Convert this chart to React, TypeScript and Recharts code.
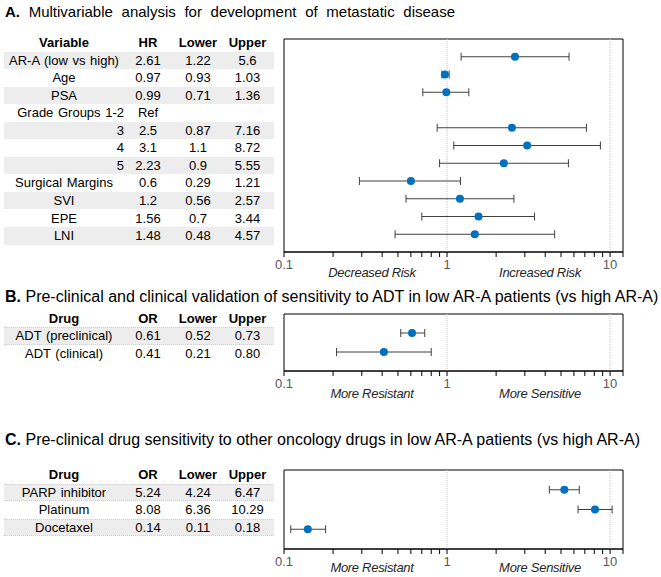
import React from 'react';
import { ScatterChart, Scatter, XAxis, YAxis, ErrorBar, ReferenceLine, ReferenceArea } from 'recharts';

const FONT = '"Liberation Sans", Arial, Helvetica, sans-serif';

// A. Multivariable analysis (hazard ratios)
const variablesA = ['AR-A (low vs high)', 'Age', 'PSA', 'Grade Groups 1-2', '3', '4', '5', 'Surgical Margins', 'SVI', 'EPE', 'LNI'];
const hrA = [2.61, 0.97, 0.99, null, 2.5, 3.1, 2.23, 0.6, 1.2, 1.56, 1.48];
const lowerA = [1.22, 0.93, 0.71, null, 0.87, 1.1, 0.9, 0.29, 0.56, 0.7, 0.48];
const upperA = [5.6, 1.03, 1.36, null, 7.16, 8.72, 5.55, 1.21, 2.57, 3.44, 4.57];
const rightAlignedA = ['Grade Groups 1-2', '3', '4', '5'];

// B. ADT sensitivity (odds ratios)
const drugsB = ['ADT (preclinical)', 'ADT (clinical)'];
const orB = [0.61, 0.41];
const lowerB = [0.52, 0.21];
const upperB = [0.73, 0.8];

// C. other oncology drugs (odds ratios)
const drugsC = ['PARP inhibitor', 'Platinum', 'Docetaxel'];
const orC = [5.24, 8.08, 0.14];
const lowerC = [4.24, 6.36, 0.11];
const upperC = [6.47, 10.29, 0.18];

const xTicks = [0.1, 0.2, 0.3, 0.4, 0.5, 0.6, 0.7, 0.8, 0.9, 1, 2, 3, 4, 5, 6, 7, 8, 9, 10, 12];
const xTickLabels = [0.1, 1, 10];

const DOT = '#0070C0';
const BAR = '#404040';

const Dot = (props: any) => <circle cx={props.cx} cy={props.cy} r={4} fill={DOT} />;

// tick mark on every minor value, label only on the decades
const LogTick = (props: any) => {
  const { x, y, payload } = props;
  const v = payload.value;
  return (
    <g>
      <line x1={x} x2={x} y1={y - 5} y2={y} stroke="#000" strokeWidth={1} />
      {xTickLabels.includes(v) && (
        <text x={x} y={y + 12} textAnchor="middle" fill="#595959" fontSize={13} fontFamily={FONT}>
          {String(v)}
        </text>
      )}
    </g>
  );
};

const ForestPlot = ({ est, lo, hi, top, height, plotTop, plotBottom, leftLabel, rightLabel, labelY }: any) => {
  const rows = est.length;
  const data = est
    .map((v: number | null, i: number) => ({ x: v, pos: i + 1, err: v == null ? null : [v - lo[i], hi[i] - v] }))
    .filter((d: any) => d.x != null);
  const xAxisH = 20;
  return (
    <>
      <div style={{ position: 'absolute', left: 270, top }}>
        <ScatterChart
          width={370}
          height={height}
          margin={{ top: plotTop - top, right: 17, left: 14, bottom: height - (plotBottom - top) - xAxisH }}
          style={{ fontFamily: FONT }}
        >
          <XAxis
            type="number"
            dataKey="x"
            scale="log"
            domain={[0.1, 12]}
            allowDataOverflow
            ticks={xTicks}
            interval={0}
            height={xAxisH}
            tickSize={5}
            tickMargin={0}
            axisLine={{ stroke: '#000' }}
            tickLine={false}
            tick={<LogTick />}
          />
          <YAxis type="number" dataKey="pos" domain={[0, rows + 1]} reversed hide />
          <ReferenceLine x={1} stroke="#c4c4c4" strokeDasharray="1 1" />
          <ReferenceLine x={10} stroke="#c4c4c4" strokeDasharray="1 1" />
          <ReferenceArea x1={0.1} x2={12} y1={0} y2={rows + 1} fill="none" stroke="#000" strokeWidth={1} />
          <Scatter data={data} shape={Dot} isAnimationActive={false}>
            <ErrorBar dataKey="err" direction="x" width={4} stroke={BAR} strokeWidth={1} />
          </Scatter>
        </ScatterChart>
      </div>
      <div style={{ position: 'absolute', left: 372, top: labelY, transform: 'translate(-50%,-50%)', fontStyle: 'italic', fontSize: 13, color: '#262626', whiteSpace: 'nowrap', letterSpacing: -0.3 }}>
        {leftLabel}
      </div>
      <div style={{ position: 'absolute', left: 540, top: labelY, transform: 'translate(-50%,-50%)', fontStyle: 'italic', fontSize: 13, color: '#262626', whiteSpace: 'nowrap', letterSpacing: -0.3 }}>
        {rightLabel}
      </div>
    </>
  );
};

const cols = [
  { left: 4, width: 120 },
  { left: 124, width: 48 },
  { left: 172, width: 52 },
  { left: 224, width: 47 },
];

const Table = ({ header, names, est, lo, hi, top, rowH, fmt, rightAligned = [], dotted = false }: any) => {
  const cell = (txt: string, c: number, y: number, h: number, bold = false, align = 'center') => (
    <div
      key={c}
      style={{
        position: 'absolute',
        left: cols[c].left,
        width: cols[c].width,
        top: y,
        height: h,
        lineHeight: h + 'px',
        textAlign: align as any,
        fontWeight: bold ? 'bold' : 'normal',
        whiteSpace: 'nowrap',
        wordSpacing: 1,
      }}
    >
      {txt}
    </div>
  );
  return (
    <div style={{ position: 'absolute', left: 0, top, fontSize: 13, color: '#000' }}>
      <div style={{ position: 'relative' }}>{header.map((h: string, c: number) => cell(h, c, 0, rowH, true))}</div>
      {names.map((n: string, i: number) => (
        <div
          key={n}
          style={{
            position: 'absolute',
            left: 4,
            width: 270,
            top: rowH * (i + 1),
            height: rowH,
            background: i % 2 === 0 ? '#ededed' : 'transparent',
            borderTop: dotted && i % 2 === 0 ? '1px dotted #d0d0d0' : 'none',
            borderBottom: dotted && i % 2 === 0 ? '1px dotted #d0d0d0' : 'none',
            boxSizing: 'border-box',
          }}
        />
      ))}
      {names.map((n: string, i: number) => (
        <div key={'r' + n}>
          {cell(n, 0, rowH * (i + 1), rowH, false, rightAligned.includes(n) ? 'right' : 'center')}
          {cell(est[i] == null ? 'Ref' : fmt(est[i]), 1, rowH * (i + 1), rowH)}
          {cell(lo[i] == null ? '' : fmt(lo[i]), 2, rowH * (i + 1), rowH)}
          {cell(hi[i] == null ? '' : fmt(hi[i]), 3, rowH * (i + 1), rowH)}
        </div>
      ))}
    </div>
  );
};

const Title = ({ letter, text, top, size, wordSpacing }: any) => (
  <div style={{ position: 'absolute', left: 5, top, fontSize: size, lineHeight: '18px', whiteSpace: 'nowrap', wordSpacing }}>
    <b>{letter}</b> {text}
  </div>
);

export default function App() {
  const plain = (v: number) => String(v);
  const fixed2 = (v: number) => v.toFixed(2);
  return (
    <div style={{ position: 'absolute', left: 0, top: 0, width: 661, height: 577, background: '#fff', fontFamily: FONT, color: '#000' }}>
      <Title letter="A." text="Multivariable analysis for development of metastatic disease" top={3} size={15} wordSpacing={4.5} />
      <Table
        header={['Variable', 'HR', 'Lower', 'Upper']}
        names={variablesA}
        est={hrA}
        lo={lowerA}
        hi={upperA}
        top={34}
        rowH={17.55}
        fmt={plain}
        rightAligned={rightAlignedA}
      />
      <ForestPlot
        est={hrA}
        lo={lowerA}
        hi={upperA}
        top={30}
        height={260}
        plotTop={39}
        plotBottom={252}
        leftLabel="Decreased Risk"
        rightLabel="Increased Risk"
        labelY={272}
      />

      <Title letter="B." text="Pre-clinical and clinical validation of sensitivity to ADT in low AR-A patients (vs high AR-A)" top={288} size={16} wordSpacing={0} />
      <Table
        header={['Drug', 'OR', 'Lower', 'Upper']}
        names={drugsB}
        est={orB}
        lo={lowerB}
        hi={upperB}
        top={309.5}
        rowH={17.5}
        fmt={fixed2}
        dotted
      />
      <ForestPlot
        est={orB}
        lo={lowerB}
        hi={upperB}
        top={300}
        height={115}
        plotTop={314}
        plotBottom={371}
        leftLabel="More Resistant"
        rightLabel="More Sensitive"
        labelY={393}
      />

      <Title letter="C." text="Pre-clinical drug sensitivity to other oncology drugs in low AR-A patients (vs high AR-A)" top={431} size={16} wordSpacing={0} />
      <Table
        header={['Drug', 'OR', 'Lower', 'Upper']}
        names={drugsC}
        est={orC}
        lo={lowerC}
        hi={upperC}
        top={466}
        rowH={17.5}
        fmt={fixed2}
        dotted
      />
      <ForestPlot
        est={orC}
        lo={lowerC}
        hi={upperC}
        top={455}
        height={115}
        plotTop={470}
        plotBottom={549}
        leftLabel="More Resistant"
        rightLabel="More Sensitive"
        labelY={567}
      />
    </div>
  );
}
